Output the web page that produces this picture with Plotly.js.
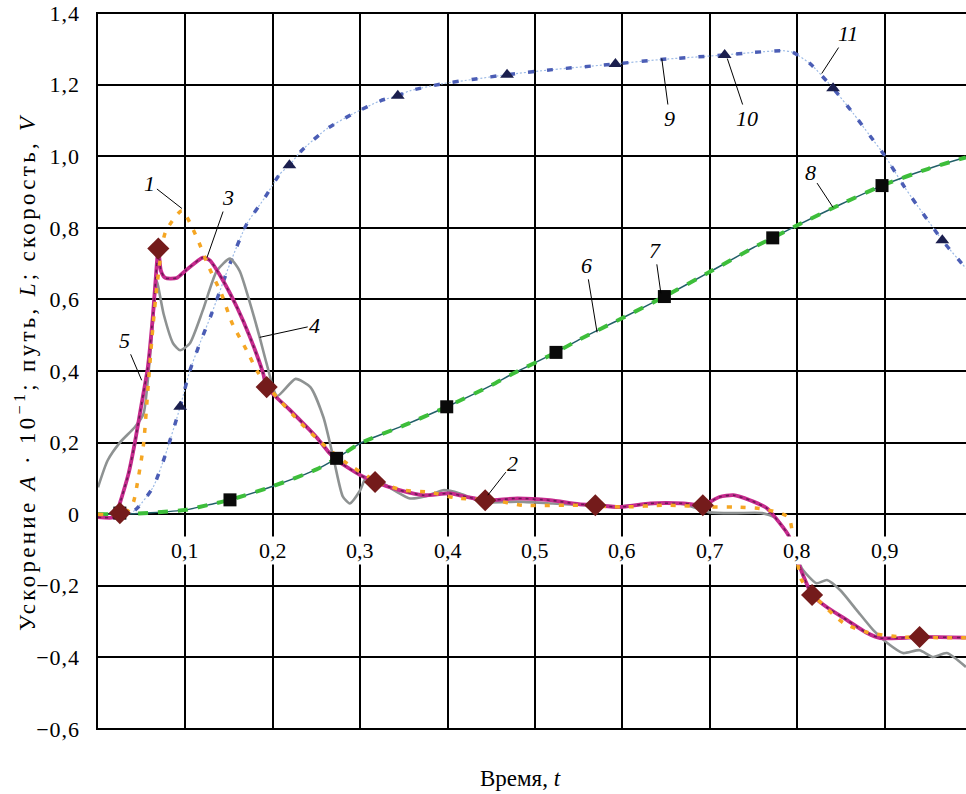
<!DOCTYPE html>
<html>
<head>
<meta charset="utf-8">
<script src="https://cdn.plot.ly/plotly-3.0.1.min.js"></script>
<style>html,body{margin:0;padding:0;background:#fff;}#chart{width:966px;height:794px;}
.ytick text{letter-spacing:1px;}</style>
</head>
<body>
<div id="chart"></div>
<script>
// ---- Velocity (curves 9, 11) ----
const velT = [0, 0.035, 0.045, 0.063, 0.077, 0.094, 0.105, 0.117, 0.13, 0.151, 0.17, 0.191, 0.208, 0.219, 0.233, 0.262, 0.292, 0.323, 0.343, 0.357, 0.395, 0.43, 0.468, 0.52, 0.592, 0.643, 0.717, 0.75, 0.784, 0.795, 0.815, 0.841, 0.864, 0.883, 0.9, 0.923, 0.943, 0.966, 0.993];
const velV = [0, 0, 0.017, 0.075, 0.165, 0.30, 0.40, 0.48, 0.56, 0.70, 0.81, 0.885, 0.95, 0.975, 1.016, 1.077, 1.119, 1.155, 1.169, 1.183, 1.203, 1.215, 1.228, 1.242, 1.258, 1.27, 1.283, 1.29, 1.295, 1.29, 1.258, 1.19, 1.12, 1.058, 1.002, 0.913, 0.843, 0.765, 0.687];
// triangles (curve 10)
const triT = [0.094, 0.219, 0.343, 0.468, 0.592, 0.717, 0.841, 0.966];
const triV = [0.30, 0.975, 1.169, 1.228, 1.258, 1.283, 1.19, 0.765];

// ---- Path (curves 6, 8) ----
const pathT = [0, 0.025, 0.06, 0.1, 0.13, 0.151, 0.2, 0.25, 0.273, 0.3, 0.35, 0.399, 0.45, 0.475, 0.524, 0.55, 0.6, 0.648, 0.7, 0.75, 0.772, 0.8, 0.85, 0.897, 0.95, 0.993];
const pathV = [0, 0, 0.004, 0.012, 0.028, 0.04, 0.078, 0.125, 0.156, 0.198, 0.248, 0.30, 0.36, 0.393, 0.452, 0.487, 0.548, 0.608, 0.677, 0.745, 0.772, 0.807, 0.866, 0.918, 0.965, 0.997];
// squares (curve 7)
const sqT = [0.025, 0.151, 0.273, 0.399, 0.524, 0.648, 0.772, 0.897];
const sqV = [0.003, 0.04, 0.156, 0.30, 0.452, 0.608, 0.772, 0.918];

// ---- Acceleration, curve 3 (magenta) ----
const accT3 = [0, 0.02, 0.025, 0.035, 0.042, 0.052, 0.057, 0.063, 0.067, 0.069, 0.072, 0.077, 0.09, 0.1, 0.12, 0.128, 0.143, 0.159, 0.174, 0.189, 0.193, 0.22, 0.25, 0.265, 0.273, 0.30, 0.317, 0.345, 0.372, 0.403, 0.422, 0.443, 0.48, 0.517, 0.55, 0.569, 0.597, 0.632, 0.67, 0.692, 0.711, 0.727, 0.746, 0.765, 0.78, 0.79, 0.803, 0.809, 0.817, 0.834, 0.857, 0.88, 0.895, 0.918, 0.94, 0.993];
const accV3 = [-0.008, -0.008, 0.03, 0.114, 0.198, 0.338, 0.41, 0.56, 0.69, 0.742, 0.68, 0.66, 0.66, 0.68, 0.717, 0.709, 0.653, 0.578, 0.494, 0.393, 0.355, 0.29, 0.215, 0.17, 0.151, 0.109, 0.09, 0.067, 0.053, 0.058, 0.048, 0.039, 0.044, 0.039, 0.028, 0.025, 0.02, 0.03, 0.03, 0.025, 0.048, 0.053, 0.039, 0.017, -0.025, -0.059, -0.148, -0.184, -0.226, -0.26, -0.296, -0.332, -0.346, -0.346, -0.343, -0.345];
// diamonds (curve 2)
const diaT = [0.025, 0.069, 0.193, 0.317, 0.443, 0.569, 0.692, 0.817, 0.94];
const diaV = [0.003, 0.742, 0.355, 0.09, 0.039, 0.025, 0.025, -0.226, -0.343];

// ---- Acceleration, curve 4 (gray) ----
const accT4 = [0, 0.011, 0.025, 0.042, 0.052, 0.057, 0.063, 0.067, 0.075, 0.086, 0.094, 0.105, 0.12, 0.136, 0.151, 0.162, 0.174, 0.185, 0.193, 0.205, 0.226, 0.243, 0.258, 0.27, 0.28, 0.288, 0.3, 0.307, 0.32, 0.34, 0.357, 0.375, 0.395, 0.414, 0.44, 0.48, 0.52, 0.56, 0.6, 0.64, 0.67, 0.7, 0.73, 0.76, 0.775, 0.785, 0.795, 0.805, 0.822, 0.834, 0.849, 0.868, 0.887, 0.903, 0.921, 0.94, 0.955, 0.971, 0.993];
const accV4 = [0.075, 0.15, 0.2, 0.243, 0.28, 0.374, 0.54, 0.653, 0.56, 0.477, 0.458, 0.477, 0.57, 0.68, 0.714, 0.68, 0.589, 0.494, 0.42, 0.33, 0.378, 0.355, 0.27, 0.15, 0.05, 0.03, 0.067, 0.103, 0.095, 0.065, 0.044, 0.05, 0.067, 0.058, 0.034, 0.035, 0.03, 0.025, 0.022, 0.03, 0.028, 0.005, 0.003, 0.003, -0.01, -0.04, -0.08, -0.15, -0.193, -0.184, -0.212, -0.268, -0.324, -0.36, -0.388, -0.38, -0.399, -0.388, -0.427];

// ---- Acceleration, curve 1 (orange) ----
const accT1 = [0, 0.03, 0.04, 0.046, 0.052, 0.057, 0.062, 0.068, 0.077, 0.096, 0.113, 0.126, 0.142, 0.153, 0.17, 0.183, 0.2, 0.231, 0.26, 0.285, 0.32, 0.349, 0.38, 0.41, 0.45, 0.486, 0.55, 0.6, 0.65, 0.7, 0.727, 0.76, 0.79, 0.795, 0.805, 0.82, 0.853, 0.88, 0.918, 0.993];
const accV1 = [0, 0, 0.03, 0.10, 0.193, 0.346, 0.5, 0.65, 0.787, 0.848, 0.773, 0.695, 0.611, 0.536, 0.458, 0.396, 0.34, 0.257, 0.19, 0.142, 0.09, 0.067, 0.061, 0.045, 0.04, 0.025, 0.025, 0.02, 0.025, 0.02, 0.02, 0.015, -0.008, -0.06, -0.184, -0.23, -0.304, -0.33, -0.343, -0.345];

// ---- Axis ticks ----
const yTickVals = [-0.6, -0.4, -0.2, 0, 0.2, 0.4, 0.6, 0.8, 1.0, 1.2, 1.4];
const yTickText = ['\u22120,6', '\u22120,4', '\u22120,2', '0', '0,2', '0,4', '0,6', '0,8', '1,0', '1,2', '1,4'];
const xTickVals = [0.1, 0.2, 0.3, 0.4, 0.5, 0.6, 0.7, 0.8, 0.9];
const xTickText = ['0,1', '0,2', '0,3', '0,4', '0,5', '0,6', '0,7', '0,8', '0,9'];

// ---- Curve number labels ----
const lblText = ['1', '2', '3', '4', '5', '6', '7', '8', '9', '10', '11'];
const lblT = [0.096, 0.446, 0.1247, 0.185, 0.05, 0.571, 0.644, 0.841, 0.645, 0.72, 0.828];
const lblV = [0.854, 0.053, 0.717, 0.494, 0.374, 0.508, 0.617, 0.857, 1.273, 1.273, 1.231];
const lblAx = [-32, 25, 21, 55, -17, -11, -6, -23, 8, 20, 26];
const lblAy = [-25, -32, -60, -12, -40, -67, -43, -35, 60, 60, -40];

const yTitle = 'Ускорение <i>A</i> · 10<sup>\u22121</sup>; путь, <i>L</i>; скорость, <i>V</i>';
const xTitle = 'Время, <i>t</i>';

const SERIF = '"Liberation Serif", "Times New Roman", Times, serif';
const sp = {shape: 'spline', smoothing: 0.6};

const traces = [
  {x: velT, y: velV, mode: 'lines', line: Object.assign({color: '#9DBBE6', width: 1.2, dash: '2px,2px'}, sp)},
  {x: velT, y: velV, mode: 'lines', line: Object.assign({color: '#4B5DB5', width: 3.5, dash: '6px,13px'}, sp)},
  {x: pathT, y: pathV, mode: 'lines', line: Object.assign({color: '#215F68', width: 1.5}, sp)},
  {x: pathT, y: pathV, mode: 'lines', line: Object.assign({color: '#3DBE3A', width: 4, dash: '10px,10px'}, sp)},
  {x: accT4, y: accV4, mode: 'lines', line: Object.assign({color: '#8E9292', width: 2.6}, sp)},
  {x: accT3, y: accV3, mode: 'lines', line: Object.assign({color: '#C62A8E', width: 3.8}, sp)},
  {x: accT3, y: accV3, mode: 'lines', line: Object.assign({color: '#6B1A55', width: 1.6, dash: '3px,4px'}, sp)},
  {x: accT1, y: accV1, mode: 'lines', line: Object.assign({color: '#F5A623', width: 3.5, dash: '5px,9px'}, sp)},
  {x: sqT, y: sqV, mode: 'markers', marker: {symbol: 'square', size: 13, color: '#0A0A0A'}},
  {x: triT, y: triV, mode: 'markers', marker: {symbol: 'triangle-up', size: 12, color: '#1B1F4E'}},
  {x: diaT, y: diaV, mode: 'markers', marker: {symbol: 'diamond', size: 17, color: '#741B1B'}}
];

const annotations = [];
xTickVals.forEach((v, i) => {
  annotations.push({x: v, y: 0, xref: 'x', yref: 'y', yshift: -36, text: xTickText[i], showarrow: false,
    bgcolor: '#ffffff', borderpad: 1, font: {family: SERIF, size: 22, color: '#000'}});
});
lblText.forEach((s, i) => {
  annotations.push({x: lblT[i], y: lblV[i], xref: 'x', yref: 'y', text: '<i>' + s + '</i>', showarrow: true,
    arrowhead: 0, arrowwidth: 1, arrowcolor: '#000', ax: lblAx[i], ay: lblAy[i], standoff: 0,
    font: {family: SERIF, size: 22, color: '#000'}});
});
annotations.push({x: 0.5, y: 0, xref: 'paper', yref: 'paper', xshift: -12, yshift: -48, yanchor: 'middle', showarrow: false,
  text: xTitle, font: {family: SERIF, size: 23, color: '#000'}});
annotations.push({x: 0, y: 0.5, xref: 'paper', yref: 'paper', xshift: -73, xanchor: 'center', yanchor: 'middle',
  textangle: -90, showarrow: false, text: yTitle, font: {family: SERIF, size: 23, color: '#000'}});

const layout = {
  width: 966, height: 794,
  margin: {l: 98, r: 0, t: 12, b: 64, pad: 0},
  paper_bgcolor: '#fff', plot_bgcolor: '#fff',
  showlegend: false,
  font: {family: SERIF, color: '#000'},
  xaxis: {range: [0, 0.9931], tickvals: xTickVals, showticklabels: false, ticks: '',
    showgrid: true, gridcolor: '#000', gridwidth: 2, zeroline: false, showline: false},
  yaxis: {range: [-0.603, 1.403], tickvals: yTickVals, ticktext: yTickText, ticks: '',
    ticklabelstandoff: 11,
    tickfont: {family: SERIF, size: 22, color: '#000'},
    showgrid: true, gridcolor: '#000', gridwidth: 2, zeroline: false,
    showline: true, linecolor: '#000', linewidth: 2.5},
  annotations: annotations
};

Plotly.newPlot('chart', traces, layout, {staticPlot: true, displayModeBar: false}).then(() => {
  document.querySelectorAll('.annotation-text').forEach(el => {
    if (el.textContent.indexOf('Ускорение') === 0) el.style.letterSpacing = '3.3px';
  });
});
</script>
</body>
</html>
